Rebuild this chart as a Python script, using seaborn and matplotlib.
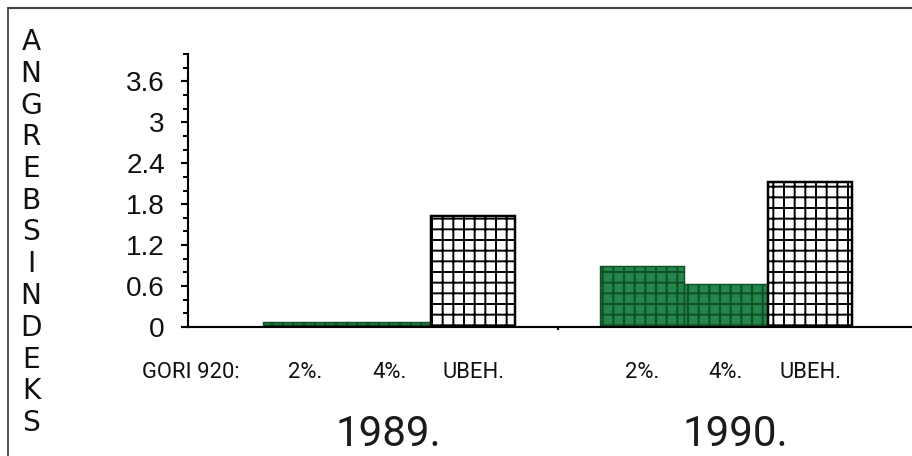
import matplotlib
matplotlib.use("Agg")
import matplotlib.pyplot as plt
from matplotlib.lines import Line2D
from matplotlib.ticker import MultipleLocator, FixedLocator
from matplotlib.transforms import blended_transform_factory
import seaborn as sns
import pandas as pd

# ---- data ----
years = ["1989", "1990"]
treatments = ["2%", "4%", "UBEH"]
values_1989 = [0.07, 0.07, 1.63]
values_1990 = [0.89, 0.63, 2.12]
treatment_labels = ["2%.", "4%.", "UBEH."]
year_labels = ["1989.", "1990."]
prefix_label = "GORI 920:"
ylabel_text = "ANGREBSINDEKS"
yticks_major = [0, 0.6, 1.2, 1.8, 2.4, 3, 3.6]
ytick_labels = ["0", "0.6", "1.2", "1.8", "2.4", "3", "3.6"]

rows = []
for yr, vals in zip(years, [values_1989, values_1990]):
    for t, v in zip(treatments, vals):
        rows.append({"slot": f"{yr} {t}", "treat": t, "value": v})
df = pd.DataFrame(rows)
order = [f"1989 {t}" for t in treatments] + ["gap"] + [f"1990 {t}" for t in treatments]

GREEN = "#23854a"
GREEN_DARK = "#0f4f26"
DPI = 128
W, H = 912, 456
PT = 72 / DPI  # points per pixel

sns.set_theme(style="white")
plt.rcParams["hatch.linewidth"] = 1.1
NARROW = ["Liberation Sans Narrow", "DejaVu Sans"]
REG = ["Liberation Sans", "DejaVu Sans"]
ROB = ["Roboto", "DejaVu Sans"]
plt.rcParams["font.family"] = REG

fig = plt.figure(figsize=(W / DPI, H / DPI), dpi=DPI)
ax = fig.add_axes([188 / W, 1 - 327 / H, 1 - 188 / W, 273 / H])

sns.barplot(data=df, x="slot", y="value", order=order, hue="treat",
            palette={"2%": GREEN, "4%": GREEN, "UBEH": "white"},
            dodge=False, width=1.0, legend=False, ax=ax, saturation=1)

for p in ax.patches:
    idx = int(round(p.get_x() + p.get_width() / 2))
    if idx < 0 or idx >= len(order) or order[idx] == "gap":
        continue
    t = order[idx].split(" ")[1]
    p.set_hatch("++")
    if t == "UBEH":
        p.set_facecolor("white")
        p.set_edgecolor("black")
        p.set_linewidth(1.4)
    else:
        p.set_facecolor(GREEN)
        p.set_edgecolor(GREEN_DARK)
        p.set_linewidth(0.8)

ax.set_xlim(-1.39, 7.21)
ax.set_ylim(0, 4.0)
ax.set_xlabel("")
ax.set_ylabel("")

for s in ["top", "right"]:
    ax.spines[s].set_visible(False)
for s in ["left", "bottom"]:
    ax.spines[s].set_color("black")
    ax.spines[s].set_linewidth(1.2)

ax.yaxis.set_major_locator(FixedLocator(yticks_major))
ax.set_yticklabels(ytick_labels)
ax.yaxis.set_minor_locator(MultipleLocator(0.2))
ax.tick_params(axis="y", which="major", direction="out", length=7 * PT, width=1.2,
               color="black", left=True, pad=16 * PT, labelsize=28 * PT,
               labelcolor="#111111")
ax.tick_params(axis="y", which="minor", direction="out", length=5 * PT, width=1.1,
               color="black", left=True)
for lab in ax.get_yticklabels():
    lab.set_family(REG)

ax.set_xticks([3])
ax.set_xticklabels([""])
ax.tick_params(axis="x", which="major", direction="out", length=3 * PT, width=1.2,
               color="black", bottom=True)
ax.set_facecolor("white")
ax.grid(False)

# vertical stacked axis title, one letter per line
n = len(ylabel_text)
for i, ch in enumerate(ylabel_text):
    yc = 42 + i * (423 - 42) / (n - 1)
    fig.text(31 / W, 1 - yc / H, ch, ha="center", va="center",
             fontsize=28 * PT, family=NARROW, color="#111111")

# category labels under bars
trans = blended_transform_factory(ax.transData, fig.transFigure)
fig.text(191 / W, 1 - 372 / H, prefix_label, ha="center", va="center",
         fontsize=22 * PT, family=ROB, fontweight="normal", color="#111111")
cat_pos = [order.index(f"{yr} {t}") for yr in years for t in treatments]
for x, lab in zip(cat_pos, treatment_labels * 2):
    ax.text(x, 1 - 372 / H, lab, ha="center", va="center", transform=trans,
            fontsize=22 * PT, family=ROB, fontweight="normal", color="#111111")

# year labels
for x, lab in zip([388, 735], year_labels):
    fig.text(x / W, 1 - 435 / H, lab, ha="center", va="center",
             fontsize=42 * PT, family=ROB, fontweight="normal",
             color="#1a1a1a")

# frame lines
fig.add_artist(Line2D([8 / W, 1], [1 - 8 / H, 1 - 8 / H], transform=fig.transFigure,
                      color="#444444", lw=1.2))
fig.add_artist(Line2D([8 / W, 8 / W], [1 - 8 / H, 0], transform=fig.transFigure,
                      color="#444444", lw=1.0))

fig.savefig("out.png", dpi=DPI, facecolor="white")
